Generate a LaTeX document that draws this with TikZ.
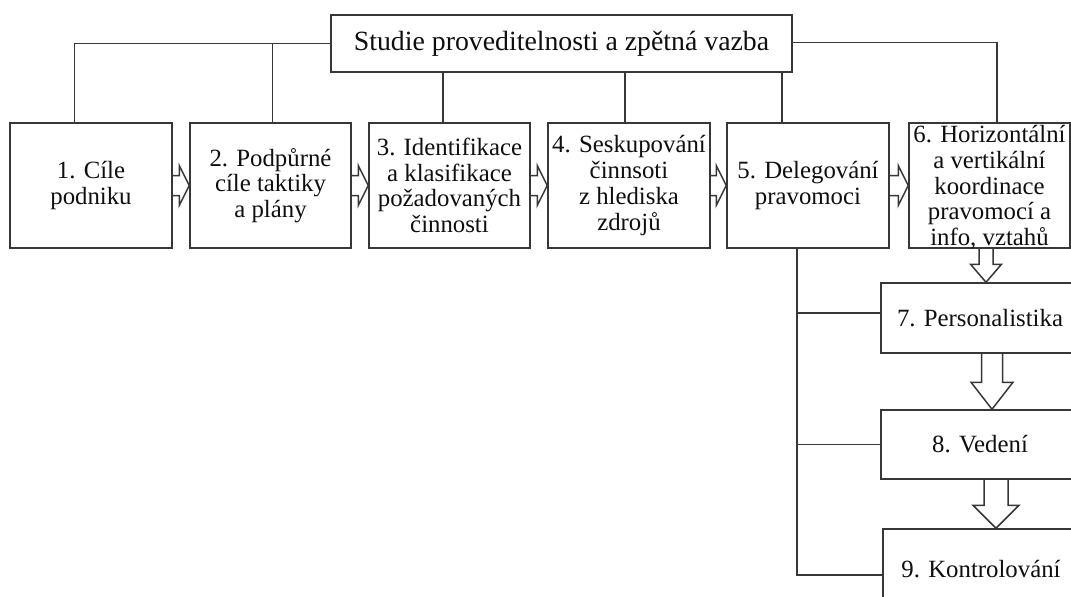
\documentclass[tikz,border=0pt]{standalone}
\usepackage{fontspec}
\setmainfont{Liberation Serif}
\usetikzlibrary{calc}
\definecolor{ink}{RGB}{55,55,55}
\definecolor{txtc}{RGB}{15,15,15}

% hollow block arrow pointing right, from the east side of #1 to the west side of #2
\newcommand\hblock[2]{%
  \draw[conn] let \p1=(#1.east), \p2=(#2.west) in
    (\x1,\y1+10pt) -- (\x2-10pt,\y1+10pt) -- (\x2-10pt,\y1+20pt) -- (\x2,\y1)
    -- (\x2-10pt,\y1-20pt) -- (\x2-10pt,\y1-10pt) -- (\x1,\y1-10pt);}

% hollow block arrow pointing down: #1 from, #2 to, #3 x offset, #4 shaft half width,
% #5 head half width, #6 head length
\newcommand\vblock[6]{%
  \draw[conn] let \p1=(#1.south), \p2=(#2.north) in
    (\x2+#3-#4,\y1) -- (\x2+#3-#4,\y2+#6) -- (\x2+#3-#5,\y2+#6) -- (\x2+#3,\y2)
    -- (\x2+#3+#5,\y2+#6) -- (\x2+#3+#4,\y2+#6) -- (\x2+#3+#4,\y1);}

\begin{document}
\begin{tikzpicture}[x=1pt,y=-1pt,
  conn/.style={draw=ink,line width=1.5pt,line join=miter},
  box/.style={draw=ink,line width=1.5pt,rectangle,inner sep=0pt,align=center,
    text=txtc,font=\fontsize{24.8}{25.7}\selectfont},
  txt/.style={inner sep=0pt,align=center,text=txtc,font=\fontsize{24.8}{25.7}\selectfont},
  rowbox/.style={box,minimum height=125pt}]
\clip (0,0) rectangle (1071,597);
\fill[white] (0,0) rectangle (1071,597);

% header
\node[box,minimum width=461pt,minimum height=57pt,font=\fontsize{27.8}{30}\selectfont]
  (top) at (561.5,43.5) {Studie proveditelnosti a zpětná vazba};

% main row
\node[rowbox,minimum width=162pt] (b1) at (91,185.5) {1. Cíle\\podniku};
\node[rowbox,minimum width=161pt] (b2) at (270.5,185.5) {2. Podpůrné\\cíle taktiky\\a plány};
\node[rowbox,minimum width=161pt] (b3) at (449.5,185.5) {3. Identifikace\\a klasifikace\\požadovaných\\činnosti};
\node[rowbox,minimum width=162pt] (b4) at (629,185.5) {4. Seskupování\\činnsoti\\z hlediska\\zdrojů};
\node[rowbox,minimum width=162pt] (b5) at (808,185.5) {5. Delegování\\pravomoci};
\node[rowbox,minimum width=161pt] (b6) at (989.5,185.5) {};
\node[txt] (t6) at ([yshift=-2pt]b6.center) {6. Horizontální\\a vertikální\\koordinace\\pravomocí a\\info, vztahů};

% lower column
\node[box,minimum width=198pt,minimum height=70pt] (b7) at (980,318) {7. Personalistika};
\node[box,minimum width=198pt,minimum height=69pt] (b8) at (980,444.5) {8. Vedení};
\node[box,minimum width=196pt,minimum height=92pt] (b9) at (981,575) {};
\node[txt] (t9) at ([yshift=6pt]b9.center) {9. Kontrolování};

% links from the header
\draw[conn] (top.west) -| ([xshift=65pt]b1.north west);
\draw[conn] ([xshift=83pt]b2.north west) -- ([xshift=83pt]b2.north west |- top.west);
\draw[conn] ([xshift=-6.5pt]b3.north) -- ([xshift=-6.5pt]b3.north |- top.south);
\draw[conn] ([xshift=-4pt]b4.north) -- ([xshift=-4pt]b4.north |- top.south);
\draw[conn] ([xshift=-26pt]b5.north) -- ([xshift=-26pt]b5.north |- top.south);
\draw[conn] ([yshift=1pt]top.east) -| ([xshift=7.5pt]b6.north);

% sequence arrows
\hblock{b1}{b2}
\hblock{b2}{b3}
\hblock{b3}{b4}
\hblock{b4}{b5}
\hblock{b5}{b6}
\vblock{b6}{b7}{6pt}{7pt}{15.5pt}{18pt}
\vblock{b7}{b8}{12pt}{10.5pt}{21pt}{27pt}
\vblock{b8}{b9}{15pt}{12pt}{23pt}{23pt}

% delegation spine
\coordinate (spine) at ([xshift=-11pt]b5.south);
\draw[conn] (spine) |- (b9.west);
\draw[conn] ([yshift=5pt]b7.west) -- ([yshift=5pt]b7.west -| spine);
\draw[conn] (b8.west) -- (b8.west -| spine);
\end{tikzpicture}
\end{document}
